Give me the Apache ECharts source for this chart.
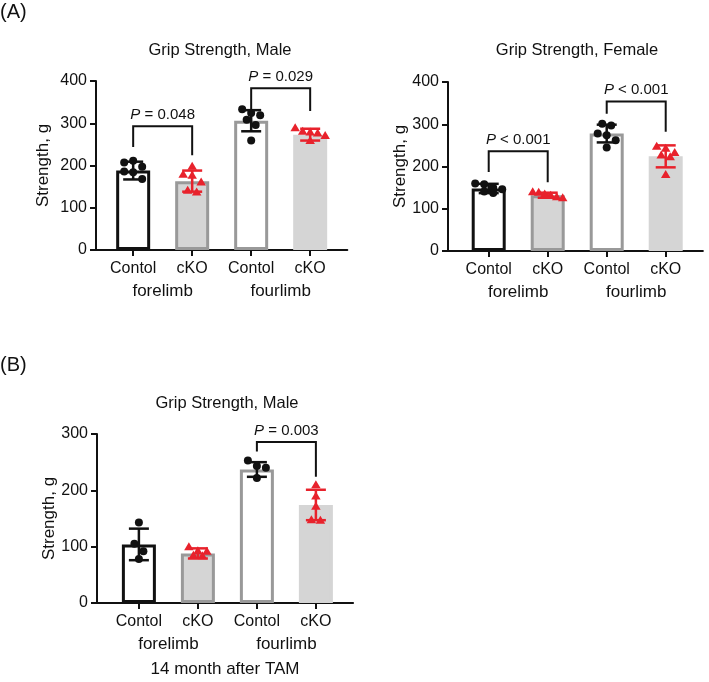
<!DOCTYPE html>
<html>
<head>
<meta charset="utf-8">
<script src="https://cdn.jsdelivr.net/npm/echarts@6.0.0/dist/echarts.min.js"></script>
<style>html,body{margin:0;padding:0;background:#fff}#c{width:709px;height:682px}</style>
</head>
<body>
<div id="c"></div>
<script>
// ---------------- data ----------------
const groupLabels = ['Contol', 'cKO', 'Contol', 'cKO'];
const limbLabels = ['forelimb', 'fourlimb'];
const yTicksA = [0, 100, 200, 300, 400];
const yTicksB = [0, 100, 200, 300];

// Panel A, male
const maleMean = [188, 163, 306, 273];
const maleSD = [21, 25, 25, 14];
const maleCtrlFore = [207, 211, 197, 186, 184, 168];
const maleCkoFore = [197, 178, 176, 160, 140, 136];
const maleCtrlFour = [333, 324, 319, 308, 296, 259];
const maleCkoFour = [288, 280, 278, 276, 270, 258];
const maleBracketY = [[293, 244, 224], [383, 331, 329]]; // top, left end, right end
const maleP = [['=', '0.048'], ['=', '0.029']];

// Panel A, female
const femaleMean = [148, 132, 278, 224];
const femaleSD = [11, 6, 21, 26];
const femaleCtrlFore = [160, 158, 150, 146, 141, 137];
const femaleCkoFore = [139, 138, 134, 131, 127, 125];
const femaleCtrlFour = [301, 297, 278, 274, 262, 245];
const femaleCkoFour = [247, 242, 232, 226, 222, 180];
const femaleBracketY = [[236, 187, 163], [354, 325, 282]];
const femaleP = [['<', '0.001'], ['<', '0.001']];

// Panel B, male 14 month after TAM
const bMean = [104, 88, 237, 174];
const bSD = [28, 9, 13, 27];
const bCtrlFore = [143, 105, 92, 78];
const bCkoFore = [99, 92, 91, 84, 83];
const bCtrlFour = [253, 243, 240, 222];
const bCkoFour = [209, 189, 171, 147, 146];
const bBracketY = [[286, 269, 224]];
const bP = [['=', '0.003']];

// ---------------- styling / layout ----------------
const FONT = '"Liberation Sans", Arial, sans-serif';
const BLACK = '#111111';
const GRAY_BORDER = '#999999';
const GRAY_FILL = '#d5d5d5';
const RED = '#e8222c';

const panels = [
  {mean: maleMean, sd: maleSD, pts: [maleCtrlFore, maleCkoFore, maleCtrlFour, maleCkoFour],
   brackets: maleBracketY, p: maleP, pairs: [[0, 1], [2, 3]], ymax: 400, ticks: yTicksA,
   grid: {left: 96, top: 81, height: 169}, xmin: -0.63, xmax: 3.63, nameGap: 44, extra: ''},
  {mean: femaleMean, sd: femaleSD, pts: [femaleCtrlFore, femaleCkoFore, femaleCtrlFour, femaleCkoFour],
   brackets: femaleBracketY, p: femaleP, pairs: [[0, 1], [2, 3]], ymax: 400, ticks: yTicksA,
   grid: {left: 448, top: 82, height: 169}, xmin: -0.69, xmax: 3.63, nameGap: 37, extra: ''},
  {mean: bMean, sd: bSD, pts: [bCtrlFore, bCkoFore, bCtrlFour, bCkoFour],
   brackets: bBracketY, p: bP, pairs: [[2, 3]], ymax: 300, ticks: yTicksB,
   grid: {left: 97, top: 434, height: 169}, xmin: -0.71, xmax: 3.63, nameGap: 36, extra: '14 month after TAM'}
];
const SPACING = 59;

const barStyles = [
  {color: '#ffffff', borderColor: BLACK, borderWidth: 3},
  {color: GRAY_FILL, borderColor: GRAY_BORDER, borderWidth: 3},
  {color: '#ffffff', borderColor: GRAY_BORDER, borderWidth: 3},
  {color: GRAY_FILL, borderColor: GRAY_FILL, borderWidth: 3}
];

// row-based scatter spread (pixel space), limited to about the bar width
function swarm(ys, d, maxHalf) {
  const idx = ys.map((y, i) => i).sort((a, b) => ys[a] - ys[b]);
  const xs = new Array(ys.length).fill(0);
  let row = [];
  const flush = () => {
    const n = row.length;
    if (!n) return;
    const s = n > 1 ? Math.min(d, 2 * maxHalf / (n - 1)) : 0;
    const order = row.slice().sort((a, b) => a - b);
    order.forEach((k, j) => { xs[k] = (j - (n - 1) / 2) * s; });
    row = [];
  };
  idx.forEach((k) => {
    if (row.length && ys[k] - ys[row[0]] > d * 0.85) flush();
    row.push(k);
  });
  flush();
  return xs;
}

const grids = [], xAxes = [], yAxes = [], series = [];
panels.forEach((P, gi) => {
  const width = (P.xmax - P.xmin) * SPACING;
  grids.push({left: P.grid.left, top: P.grid.top, width: width, height: P.grid.height, containLabel: false});
  const axisLine = {show: true, onZero: false, lineStyle: {color: BLACK, width: 2}};
  xAxes.push({
    type: 'value', gridIndex: gi, min: P.xmin, max: P.xmax, position: 'bottom',
    axisLine: axisLine,
    axisTick: {show: true, customValues: [0, 1, 2, 3], length: 6, lineStyle: {color: BLACK, width: 2}},
    axisLabel: {customValues: [0, 1, 2, 3], formatter: (v) => groupLabels[Math.round(v)],
      fontSize: 16, fontFamily: FONT, color: BLACK, margin: 11},
    splitLine: {show: false}
  });
  xAxes.push({
    type: 'value', gridIndex: gi, min: P.xmin, max: P.xmax, position: 'bottom', offset: 22,
    axisLine: {show: false}, axisTick: {show: false},
    axisLabel: {customValues: [0.5, 2.5], formatter: (v) => limbLabels[v < 1.5 ? 0 : 1],
      fontSize: 17, fontFamily: FONT, color: BLACK, margin: 11},
    splitLine: {show: false},
    name: P.extra, nameLocation: 'middle', nameGap: 36,
    nameTextStyle: {fontSize: 17, fontFamily: FONT, color: BLACK}
  });
  yAxes.push({
    type: 'value', gridIndex: gi, min: 0, max: P.ymax, interval: 100,
    axisLine: axisLine,
    axisTick: {show: true, length: 6, lineStyle: {color: BLACK, width: 2}},
    axisLabel: {fontSize: 16, fontFamily: FONT, color: BLACK, margin: 9},
    splitLine: {show: false},
    name: 'Strength, g', nameLocation: 'middle', nameRotate: 90, nameGap: P.nameGap,
    nameTextStyle: {fontSize: 17, fontFamily: FONT, color: BLACK}
  });
  const xi = gi * 2;
  // bars
  series.push({
    type: 'bar', xAxisIndex: xi, yAxisIndex: gi, barWidth: 34, z: 2,
    data: P.mean.map((m, i) => ({value: [i, m], itemStyle: barStyles[i]})),
    silent: true, animation: false
  });
  // points
  series.push({
    type: 'custom', xAxisIndex: xi, yAxisIndex: gi, z: 3, animation: false, silent: true,
    data: P.pts.map((_, i) => [i, P.mean[i]]),
    renderItem: function (params, api) {
      const i = api.value(0);
      const vals = P.pts[i];
      const coords = vals.map((v) => api.coord([i, v]));
      const xs = swarm(coords.map((c) => c[1]), 9, 15);
      const children = coords.map((c, j) => {
        const cx = c[0] + xs[j], cy = c[1];
        if (i % 2 === 0) {
          return {type: 'circle', shape: {cx: cx, cy: cy, r: 4}, style: {fill: BLACK}};
        }
        const r = 5;
        return {type: 'polygon', shape: {points: [[cx, cy - r], [cx - r * 0.95, cy + r * 0.6], [cx + r * 0.95, cy + r * 0.6]]},
          style: {fill: RED}};
      });
      return {type: 'group', children: children};
    }
  });
  // error bars
  series.push({
    type: 'custom', xAxisIndex: xi, yAxisIndex: gi, z: 4, animation: false, silent: true,
    data: P.mean.map((m, i) => [i, m, P.sd[i]]),
    renderItem: function (params, api) {
      const i = api.value(0), m = api.value(1), s = api.value(2);
      const top = api.coord([i, m + s]), bot = api.coord([i, m - s]);
      const col = i % 2 ? RED : BLACK;
      const hw = 10, lw = 2.5;
      return {type: 'group', children: [
        {type: 'line', shape: {x1: top[0], y1: top[1], x2: bot[0], y2: bot[1]}, style: {stroke: col, lineWidth: lw}},
        {type: 'line', shape: {x1: top[0] - hw, y1: top[1], x2: top[0] + hw, y2: top[1]}, style: {stroke: col, lineWidth: lw}},
        {type: 'line', shape: {x1: bot[0] - hw, y1: bot[1], x2: bot[0] + hw, y2: bot[1]}, style: {stroke: col, lineWidth: lw}}
      ]};
    }
  });
  // significance brackets
  series.push({
    type: 'custom', xAxisIndex: xi, yAxisIndex: gi, z: 5, animation: false, silent: true,
    data: P.brackets.map((b, k) => [P.pairs[k][0], P.pairs[k][1], b[0], b[1], b[2]]),
    renderItem: function (params, api) {
      const a = api.value(0), b = api.value(1), top = api.value(2), le = api.value(3), re = api.value(4);
      const p1 = api.coord([a, le]), p2 = api.coord([a, top]), p3 = api.coord([b, top]), p4 = api.coord([b, re]);
      const lab = P.p[params.dataIndex];
      return {type: 'group', children: [
        {type: 'polyline', shape: {points: [p1, p2, p3, p4]}, style: {stroke: BLACK, lineWidth: 2, fill: null}},
        {type: 'text', style: {
          text: '{i|P} {n|' + lab[0] + ' ' + lab[1] + '}',
          x: (p2[0] + p3[0]) / 2, y: p2[1] - 4,
          align: 'center', verticalAlign: 'bottom',
          rich: {
            i: {fontStyle: 'italic', fontSize: 15, fontFamily: FONT, fill: BLACK, color: BLACK},
            n: {fontSize: 15, fontFamily: FONT, fill: BLACK, color: BLACK}
          },
          fill: BLACK, fontSize: 15, fontFamily: FONT
        }}
      ]};
    }
  });
});

const titleFont = '16.5px ' + FONT;
const option = {
  backgroundColor: '#ffffff',
  animation: false,
  grid: grids,
  xAxis: xAxes,
  yAxis: yAxes,
  series: series,
  graphic: [
    {type: 'text', left: 0, top: 2, style: {text: '(A)', font: '20px ' + FONT, fill: BLACK}},
    {type: 'text', left: 0, top: 355, style: {text: '(B)', font: '20px ' + FONT, fill: BLACK}},
    {type: 'text', x: 220, y: 50, style: {text: 'Grip Strength, Male', font: titleFont, fill: BLACK, align: 'center', verticalAlign: 'middle', textAlign: 'center', textVerticalAlign: 'middle'}},
    {type: 'text', x: 577, y: 50, style: {text: 'Grip Strength, Female', font: titleFont, fill: BLACK, align: 'center', verticalAlign: 'middle', textAlign: 'center', textVerticalAlign: 'middle'}},
    {type: 'text', x: 227, y: 403, style: {text: 'Grip Strength, Male', font: titleFont, fill: BLACK, align: 'center', verticalAlign: 'middle', textAlign: 'center', textVerticalAlign: 'middle'}}
  ]
};
const chart = echarts.init(document.getElementById('c'));
chart.setOption(option);
</script>
</body>
</html>
